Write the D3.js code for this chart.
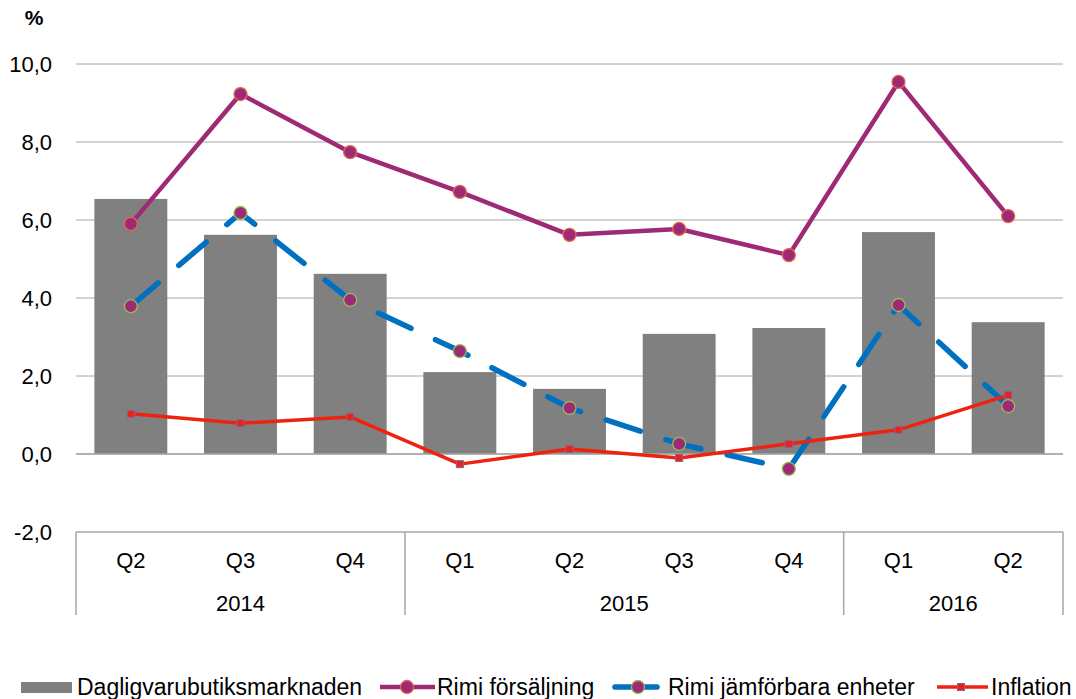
<!DOCTYPE html>
<html><head><meta charset="utf-8">
<script src="https://cdn.jsdelivr.net/npm/d3@7"></script>
<style>body{margin:0;background:#fff}svg{display:block}text{font-family:"Liberation Sans",Arial,sans-serif;fill:#000}</style>
</head><body><svg id="c" width="1076" height="699"></svg>
<script>
const quarters = ["Q2","Q3","Q4","Q1","Q2","Q3","Q4","Q1","Q2"];
const years = [{label:"2014",from:0,to:3},{label:"2015",from:3,to:7},{label:"2016",from:7,to:9}];
const market = [6.54,5.62,4.62,2.10,1.67,3.08,3.23,5.69,3.38];
const rimiSales = [5.90,9.23,7.74,6.72,5.62,5.77,5.10,9.54,6.10];
const rimiLfl = [3.79,6.18,3.95,2.64,1.18,0.26,-0.38,3.82,1.23];
const inflation = [1.03,0.79,0.95,-0.26,0.13,-0.10,0.26,0.62,1.51];
const yTicks = [-2,0,2,4,6,8,10];
const seriesNames = ["Dagligvarubutiksmarknaden","Rimi försäljning","Rimi jämförbara enheter","Inflation"];

const svg = d3.select("#c");
const L=76, R=1063, T=64, B=532;
const FS = 22;
const idx = d3.range(quarters.length);
const x = d3.scaleBand().domain(idx).range([L,R]).paddingInner(0.335).paddingOuter(0.1675);
const y = d3.scaleLinear().domain([-2,10]).range([B,T]);
const cx = i => x(i)+x.bandwidth()/2;
const fmt = v => d3.format(".1f")(v).replace(".",",").replace("−","-");

// gridlines
svg.append("g").selectAll("line").data(yTicks.filter(v=>v>-2)).join("line")
  .attr("x1",L).attr("x2",R).attr("y1",d=>y(d)).attr("y2",d=>y(d))
  .attr("stroke","#a6a6a6").attr("stroke-width",1);
// y labels
const yAxis = d3.axisLeft(y).tickValues(yTicks).tickFormat(fmt).tickSize(0).tickPadding(24);
const ya = svg.append("g").attr("transform",`translate(${L},0)`).call(yAxis);
ya.select(".domain").remove();
ya.selectAll("text").attr("font-size",FS).attr("font-family","Liberation Sans, Arial, sans-serif").attr("fill","#000");
svg.append("text").attr("x",34).attr("y",25).attr("text-anchor","middle").attr("font-size",21).attr("font-weight","bold").text("%");

// bars
svg.append("g").selectAll("rect").data(market).join("rect")
  .attr("x",(d,i)=>x(i)).attr("width",x.bandwidth())
  .attr("y",d=>y(Math.max(0,d))).attr("height",d=>Math.abs(y(d)-y(0)))
  .attr("fill","#808080");

// zero line
svg.append("line").attr("x1",L).attr("x2",R).attr("y1",y(0)).attr("y2",y(0)).attr("stroke","#a6a6a6").attr("stroke-width",1.5);

// category table
const tb = svg.append("g");
tb.append("line").attr("x1",L).attr("x2",R).attr("y1",B).attr("y2",B).attr("stroke","#a6a6a6").attr("stroke-width",1.5);
const seps = [L, ...years.slice(1).map(yy=>x(yy.from)-x.step()*x.paddingInner()/2), R];
tb.selectAll("line.sep").data(seps).join("line").attr("class","sep")
  .attr("x1",d=>d).attr("x2",d=>d).attr("y1",B).attr("y2",615).attr("stroke","#a6a6a6").attr("stroke-width",1.5);
const xAxis = d3.axisBottom(x).tickFormat(i=>quarters[i]).tickSize(0).tickPadding(20);
const xa = svg.append("g").attr("transform",`translate(0,${B})`).call(xAxis);
xa.select(".domain").remove();
xa.selectAll("text").attr("font-size",FS).attr("font-family","Liberation Sans, Arial, sans-serif").attr("fill","#000");
tb.selectAll("text.yr").data(years).join("text").attr("class","yr")
  .attr("x",d=>(cx(d.from)+cx(d.to-1))/2).attr("y",611).attr("text-anchor","middle").attr("font-size",FS).text(d=>d.label);

const line = d3.line().x((d,i)=>cx(i)).y(d=>y(d));
// Rimi försäljning
svg.append("path").datum(rimiSales).attr("d",line).attr("fill","none").attr("stroke","#9e2a75").attr("stroke-width",4.5).attr("stroke-linejoin","round");
svg.append("g").selectAll("circle").data(rimiSales).join("circle")
  .attr("cx",(d,i)=>cx(i)).attr("cy",d=>y(d)).attr("r",6.5).attr("fill","#9e2a75").attr("stroke","#e06650").attr("stroke-width",1.3);
// Rimi jämförbara
svg.append("path").datum(rimiLfl).attr("d",line).attr("fill","none").attr("stroke","#0070c0").attr("stroke-width",5.5)
  .attr("stroke-dasharray","36,27").attr("stroke-linecap","round").attr("stroke-linejoin","round");
svg.append("g").selectAll("circle").data(rimiLfl).join("circle")
  .attr("cx",(d,i)=>cx(i)).attr("cy",d=>y(d)).attr("r",6.5).attr("fill","#9e2a75").attr("stroke","#9bbb59").attr("stroke-width",1.3);
// Inflation
svg.append("path").datum(inflation).attr("d",line).attr("fill","none").attr("stroke","#ee2211").attr("stroke-width",3.5).attr("stroke-linejoin","round");
svg.append("g").selectAll("rect").data(inflation).join("rect")
  .attr("x",(d,i)=>cx(i)-3.5).attr("y",d=>y(d)-3.5).attr("width",7).attr("height",7).attr("fill","#ee2211").attr("stroke","#8064a2").attr("stroke-width",1);

// legend
const lg = svg.append("g");
const ly = 687, LFS = 23;
lg.append("rect").attr("x",21).attr("y",682).attr("width",51).attr("height",11).attr("fill","#808080");
lg.append("text").attr("x",77).attr("y",ly+8).attr("font-size",LFS).text(seriesNames[0]);
lg.append("line").attr("x1",380).attr("x2",435).attr("y1",ly).attr("y2",ly).attr("stroke","#9e2a75").attr("stroke-width",4.5);
lg.append("circle").attr("cx",407).attr("cy",ly).attr("r",6.5).attr("fill","#9e2a75").attr("stroke","#e06650").attr("stroke-width",1.3);
lg.append("text").attr("x",437).attr("y",ly+8).attr("font-size",LFS).text(seriesNames[1]);
lg.append("line").attr("x1",615).attr("x2",657).attr("y1",ly).attr("y2",ly).attr("stroke","#0070c0").attr("stroke-width",5.5).attr("stroke-linecap","round");
lg.append("circle").attr("cx",638).attr("cy",ly).attr("r",6.5).attr("fill","#9e2a75").attr("stroke","#9bbb59").attr("stroke-width",1.3);
lg.append("text").attr("x",668).attr("y",ly+8).attr("font-size",LFS).text(seriesNames[2]);
lg.append("line").attr("x1",937).attr("x2",988).attr("y1",ly).attr("y2",ly).attr("stroke","#ee2211").attr("stroke-width",3.5);
lg.append("rect").attr("x",957.5).attr("y",ly-3.5).attr("width",7).attr("height",7).attr("fill","#ee2211").attr("stroke","#8064a2").attr("stroke-width",1);
lg.append("text").attr("x",991).attr("y",ly+8).attr("font-size",LFS).text(seriesNames[3]);
</script></body></html>
